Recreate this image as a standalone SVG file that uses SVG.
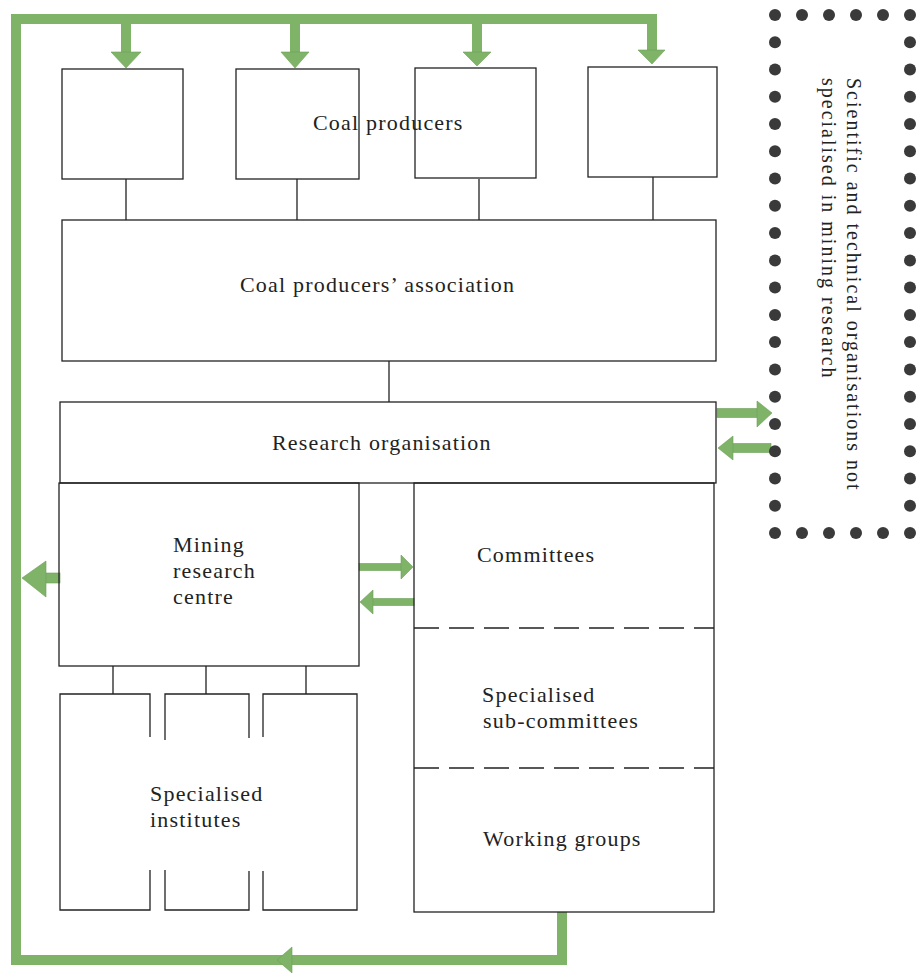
<svg xmlns="http://www.w3.org/2000/svg" width="919" height="973" viewBox="0 0 919 973">
<style>
.box{fill:none;stroke:#222;stroke-width:1.3}
.ln{stroke:#222;stroke-width:1.3;fill:none}
.dash{stroke:#222;stroke-width:1.3;stroke-dasharray:25 10;fill:none}
.lbl{font-family:"Liberation Serif",serif;font-size:22px;letter-spacing:1.2px;fill:#222}
.vlbl{font-family:"Liberation Serif",serif;font-size:20px;letter-spacing:2px;fill:#222}
.gbar{fill:none;stroke:#7fb468;stroke-width:10;stroke-linejoin:miter}
.garrow{fill:#7fb468;stroke:#6c9f58;stroke-width:0.6}
.dot{fill:#3a3a3a}
</style>
<rect width="919" height="973" fill="#ffffff"/>

<g id="connectors">
  <path class="gbar" d="M562,912 V960 H16 V19 H652 V52"/>
  <path class="gbar" d="M126,19 V52 M295,19 V52 M477,19 V52"/>
  <polygon class="garrow" points="111,52 141,52 126,68"/>
  <polygon class="garrow" points="281,52 309,52 295,68"/>
  <polygon class="garrow" points="463,52 491,52 477,66"/>
  <polygon class="garrow" points="638,50 665,50 652,64"/>
  <polygon class="garrow" points="277,960 292,947 292,973"/>
  <rect class="garrow" x="44" y="573" width="16" height="10"/>
  <polygon class="garrow" points="22,578 46,561 46,597"/>
  <rect class="garrow" x="359" y="563.5" width="44" height="7"/>
  <polygon class="garrow" points="413,567 401,555 401,579"/>
  <rect class="garrow" x="371" y="598.5" width="43" height="7"/>
  <polygon class="garrow" points="360,602 373,590 373,614"/>
  <rect class="garrow" x="717" y="408.5" width="42" height="9"/>
  <polygon class="garrow" points="772,413 757,401 757,427"/>
  <rect class="garrow" x="731" y="443.5" width="40" height="9"/>
  <polygon class="garrow" points="718,448 733,436 733,460"/>
  <path class="ln" d="M126,179 V220 M297,179 V220 M479,179 V220 M653,177 V220"/>
  <path class="ln" d="M389,361 V402"/>
  <path class="ln" d="M113,666 V694 M206,666 V694 M306,666 V694"/>
</g>

<g id="coal-producers">
  <rect class="box" x="62" y="69" width="121" height="110"/>
  <rect class="box" x="236" y="69" width="123" height="110"/>
  <rect class="box" x="415" y="68" width="121" height="110"/>
  <rect class="box" x="588" y="67" width="129" height="110"/>
  <text class="lbl" x="313" y="130">Coal producers</text>
</g>

<g id="association">
  <rect class="box" x="62" y="220" width="654" height="141"/>
  <text class="lbl" x="240" y="292">Coal producers’ association</text>
</g>

<g id="research-organisation">
  <rect class="box" x="60" y="402" width="656" height="81"/>
  <text class="lbl" x="272" y="450">Research organisation</text>
</g>

<g id="mining-research-centre">
  <rect class="box" x="59" y="483" width="300" height="183"/>
  <text class="lbl" x="173" y="552">Mining</text>
  <text class="lbl" x="173" y="578">research</text>
  <text class="lbl" x="173" y="604">centre</text>
</g>

<g id="specialised-institutes">
  <path class="ln" d="M150,737 V694 H60 V910 H150 V870"/>
  <path class="ln" d="M165,740 V694 H249 V738 M165,870 V910 H249 V871"/>
  <path class="ln" d="M263,737 V694 H357 V910 H263 V871"/>
  <text class="lbl" x="150" y="801">Specialised</text>
  <text class="lbl" x="150" y="827">institutes</text>
</g>

<g id="committees">
  <rect class="box" x="414" y="483" width="300" height="429"/>
  <path class="dash" d="M414,628 H714"/>
  <path class="dash" d="M414,768 H714"/>
  <text class="lbl" x="477" y="562">Committees</text>
  <text class="lbl" x="482" y="702">Specialised</text>
  <text class="lbl" x="483" y="728">sub-committees</text>
  <text class="lbl" x="483" y="846">Working groups</text>
</g>

<g id="external-organisations">
  <g class="dot">
    <circle cx="775" cy="15" r="6"/><circle cx="802" cy="15" r="6"/><circle cx="829" cy="15" r="6"/><circle cx="856" cy="15" r="6"/><circle cx="883" cy="15" r="6"/><circle cx="910" cy="15" r="6"/>
    <circle cx="775" cy="533" r="6"/><circle cx="802" cy="533" r="6"/><circle cx="829" cy="533" r="6"/><circle cx="856" cy="533" r="6"/><circle cx="883" cy="533" r="6"/><circle cx="910" cy="533" r="6"/>
    <circle cx="775" cy="42.3" r="6"/><circle cx="775" cy="69.5" r="6"/><circle cx="775" cy="96.8" r="6"/><circle cx="775" cy="124" r="6"/><circle cx="775" cy="151.3" r="6"/><circle cx="775" cy="178.6" r="6"/><circle cx="775" cy="205.8" r="6"/><circle cx="775" cy="233.1" r="6"/><circle cx="775" cy="260.4" r="6"/><circle cx="775" cy="287.6" r="6"/><circle cx="775" cy="314.9" r="6"/><circle cx="775" cy="342.1" r="6"/><circle cx="775" cy="369.4" r="6"/><circle cx="775" cy="396.7" r="6"/><circle cx="775" cy="423.9" r="6"/><circle cx="775" cy="451.2" r="6"/><circle cx="775" cy="478.5" r="6"/><circle cx="775" cy="505.7" r="6"/>
    <circle cx="910" cy="42.3" r="6"/><circle cx="910" cy="69.5" r="6"/><circle cx="910" cy="96.8" r="6"/><circle cx="910" cy="124" r="6"/><circle cx="910" cy="151.3" r="6"/><circle cx="910" cy="178.6" r="6"/><circle cx="910" cy="205.8" r="6"/><circle cx="910" cy="233.1" r="6"/><circle cx="910" cy="260.4" r="6"/><circle cx="910" cy="287.6" r="6"/><circle cx="910" cy="314.9" r="6"/><circle cx="910" cy="342.1" r="6"/><circle cx="910" cy="369.4" r="6"/><circle cx="910" cy="396.7" r="6"/><circle cx="910" cy="423.9" r="6"/><circle cx="910" cy="451.2" r="6"/><circle cx="910" cy="478.5" r="6"/><circle cx="910" cy="505.7" r="6"/>
  </g>
  <text class="vlbl" transform="translate(847,78) rotate(90)">Scientific and technical organisations not</text>
  <text class="vlbl" transform="translate(822,78) rotate(90)">specialised in mining research</text>
</g>
</svg>
